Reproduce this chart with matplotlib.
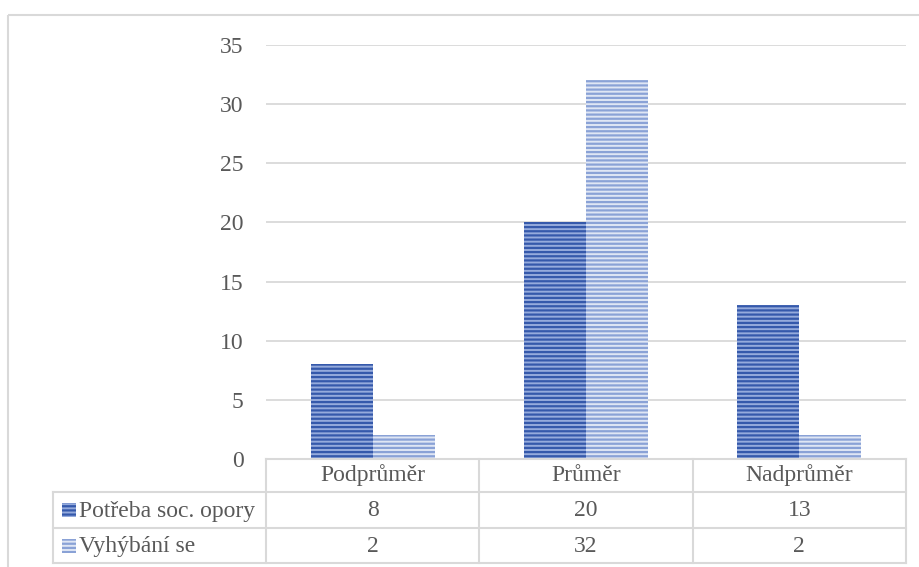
import matplotlib.pyplot as plt
from matplotlib.patches import Rectangle

plt.rcParams['font.family'] = ['Liberation Serif', 'DejaVu Serif']
plt.rcParams['hatch.linewidth'] = 1.6

categories = ['Podprůměr', 'Průměr', 'Nadprůměr']
series_names = ['Potřeba soc. opory', 'Vyhýbání se']
support = [8, 20, 13]
avoidance = [2, 32, 2]
y_ticks = [0, 5, 10, 15, 20, 25, 30, 35]

# face colour, stripe colour
styles = [('#95abdc', '#3559ab'), ('#dfe6f4', '#8aa2d6')]
text_col = '#595959'
grid_col = '#d9d9d9'
fs = 17

W, H = 920, 567
fig = plt.figure(figsize=(W / 100, H / 100), dpi=100)

# plot area in pixels
x0, x1 = 266, 906
y_top, y_zero = 45, 459
ax = fig.add_axes([x0 / W, (H - y_zero) / H, (x1 - x0) / W, (y_zero - y_top) / H])
ax.set_xlim(-0.5, len(categories) - 0.5)
ax.set_ylim(0, 35)
for s in ax.spines.values():
    s.set_visible(False)
ax.set_xticks([])
ax.set_yticks(y_ticks)
ax.set_yticklabels([str(t) for t in y_ticks], fontsize=fs, color=text_col)
ax.tick_params(axis='y', length=0, pad=16)
for t in y_ticks[1:]:
    ax.axhline(t, color=grid_col, lw=1.3, zorder=0)

bw = 0.29
for i, vals in enumerate([support, avoidance]):
    face, stripe = styles[i]
    xs = [k + (i - 0.5) * bw for k in range(len(categories))]
    ax.bar(xs, vals, width=bw, color=face, edgecolor=stripe, hatch='----',
           linewidth=0, zorder=2)

# overlay in pixel coordinates for frame and data table
ov = fig.add_axes([0, 0, 1, 1], zorder=-1)
ov.set_xlim(0, W)
ov.set_ylim(H, 0)
ov.axis('off')
ov.add_patch(Rectangle((8, 15), 930, 580, fill=False, ec=grid_col, lw=1.5))

ov2 = fig.add_axes([0, 0, 1, 1])
ov2.set_xlim(0, W)
ov2.set_ylim(H, 0)
ov2.axis('off')
ov2.patch.set_alpha(0)

col_w = (x1 - x0) / len(categories)
rows = [y_zero, 492, 528, 563]
lc = dict(color=grid_col, lw=1.5)
ov2.plot([x0, x1], [rows[0], rows[0]], **lc)
for r in rows[1:]:
    ov2.plot([53, x1], [r, r], **lc)
ov2.plot([53, 53], [rows[1], rows[3]], **lc)
for k in range(len(categories) + 1):
    ov2.plot([x0 + k * col_w] * 2, [rows[0], rows[3]], **lc)

for k, cat in enumerate(categories):
    cx = x0 + (k + 0.5) * col_w
    ov2.text(cx, (rows[0] + rows[1]) / 2, cat, ha='center', va='center',
             fontsize=fs, color=text_col)
    for j, vals in enumerate([support, avoidance]):
        ov2.text(cx, (rows[j + 1] + rows[j + 2]) / 2 + 1, str(vals[k]),
                 ha='center', va='center', fontsize=fs, color=text_col)

for j, name in enumerate(series_names):
    cy = (rows[j + 1] + rows[j + 2]) / 2
    face, stripe = styles[j]
    ov2.add_patch(Rectangle((62, cy - 7), 14, 14, fc=face, ec=stripe,
                            hatch='----', lw=0))
    ov2.text(79, cy + 1, name, ha='left', va='center', fontsize=fs, color=text_col)

fig.savefig('out.png', dpi=100)
